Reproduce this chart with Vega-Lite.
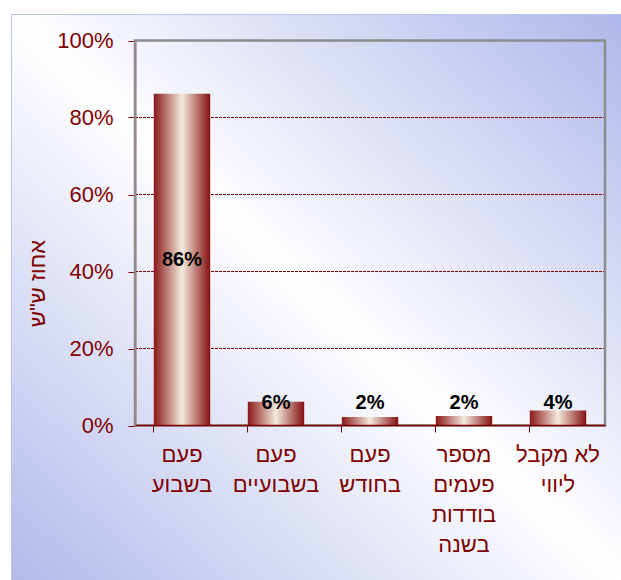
{
  "$schema": "https://vega.github.io/schema/vega-lite/v6.json",
  "width": 611,
  "height": 567,
  "autosize": {"type": "none"},
  "padding": {"left": 11, "top": 14, "right": 0, "bottom": 0},
  "background": "#ffffff",
  "config": {
    "font": "Liberation Sans",
    "view": {
      "fill": {
        "gradient": "linear",
        "x1": 1, "y1": 0, "x2": 0, "y2": 1,
        "stops": [
          {"offset": 0, "color": "#aeb7ea"},
          {"offset": 0.5, "color": "#ffffff"},
          {"offset": 1, "color": "#b1baea"}
        ]
      },
      "stroke": "#b8c3ef",
      "strokeWidth": 1
    }
  },
  "datasets": {
    "bars": [
      {"cat": "פעם|בשבוע", "value": 0.862},
      {"cat": "פעם|בשבועיים", "value": 0.062},
      {"cat": "פעם|בחודש", "value": 0.022},
      {"cat": "מספר|פעמים|בודדות|בשנה", "value": 0.0245},
      {"cat": "לא מקבל|ליווי", "value": 0.039}
    ],
    "grid": [{"g": 0}, {"g": 0.2}, {"g": 0.4}, {"g": 0.6}, {"g": 0.8}, {"g": 1}],
    "frame": [{"f": 1}]
  },
  "resolve": {"scale": {"x": "independent"}},
  "layer": [
    {
      "data": {"name": "grid"},
      "transform": [{"filter": "datum.g > 0 && datum.g < 1"}],
      "mark": {"type": "rule", "stroke": "#800000", "strokeWidth": 1, "strokeDash": [3, 1]},
      "encoding": {
        "y": {
          "field": "g", "type": "quantitative",
          "scale": {"domain": [0, 1], "range": [411.5, 26.5], "nice": false},
          "axis": {
            "title": "אחוז ש\"ש",
            "orient": "left",
            "offset": -124,
            "values": [0, 0.2, 0.4, 0.6, 0.8, 1],
            "format": ".0%",
            "grid": false,
            "labelFont": "Liberation Sans",
            "labelFontSize": 22,
            "labelColor": "#800000",
            "labelPadding": 15,
            "tickSize": 7,
            "tickColor": "#800000",
            "tickWidth": 1,
            "domainColor": "#800000",
            "domainWidth": 1.5,
            "titleFont": "Liberation Sans",
            "titleFontSize": 22,
            "titleFontWeight": "normal",
            "titleColor": "#800000",
            "titleAngle": -90,
            "titleX": -98,
            "titleY": 269,
            "titleAlign": "center",
            "titleBaseline": "middle"
          }
        },
        "x": {"datum": 0, "type": "quantitative", "scale": {"domain": [0, 1], "range": [124, 594]}, "axis": null},
        "x2": {"datum": 1}
      }
    },
    {
      "data": {"name": "frame"},
      "mark": {"type": "rect", "fill": "transparent", "stroke": "#8c8c8c", "strokeWidth": 2.5},
      "encoding": {
        "x": {"datum": 0, "type": "quantitative", "scale": {"domain": [0, 1], "range": [124, 594]}, "axis": null},
        "x2": {"datum": 1},
        "y": {"datum": 0, "type": "quantitative"},
        "y2": {"datum": 1}
      }
    },
    {
      "data": {"name": "bars"},
      "layer": [
        {
          "mark": {
            "type": "bar",
            "color": {
              "gradient": "linear",
              "x1": 0, "y1": 0, "x2": 1, "y2": 0,
              "stops": [
                {"offset": 0, "color": "#8a1818"},
                {"offset": 0.5, "color": "#f4ebdc"},
                {"offset": 1, "color": "#841010"}
              ]
            }
          },
          "encoding": {
            "x": {
              "field": "cat", "type": "nominal", "sort": null,
              "scale": {"range": [124, 594], "paddingInner": 0.4, "paddingOuter": 0.2},
              "axis": {
                "title": null,
                "orient": "bottom",
                "offset": -156,
                "zindex": 1,
                "bandPosition": 0,
                "labelAngle": 0,
                "labelExpr": "split(datum.label, '|')",
                "labelFont": "Liberation Sans",
                "labelFontSize": 22,
                "labelLineHeight": 30,
                "labelColor": "#800000",
                "labelAlign": "center",
                "labelBaseline": "top",
                "labelPadding": 12,
                "labelOverlap": false,
                "labelBound": false,
                "tickSize": 7,
                "tickColor": "#800000",
                "tickWidth": 1,
                "domainColor": "#800000",
                "domainWidth": 1.5,
                "grid": false
              }
            },
            "y": {"field": "value", "type": "quantitative"}
          }
        },
        {
          "transform": [{"filter": "datum.value < 0.5"}],
          "mark": {"type": "text", "font": "Liberation Sans", "fontSize": 20, "fontWeight": "bold", "color": "#000000", "baseline": "alphabetic", "dy": -17},
          "encoding": {
            "x": {"field": "cat", "type": "nominal", "sort": null},
            "y": {"datum": 0, "type": "quantitative"},
            "text": {"field": "value", "type": "quantitative", "format": ".0%"}
          }
        },
        {
          "transform": [{"calculate": "datum.value / 2", "as": "mid"}, {"filter": "datum.value >= 0.5"}],
          "mark": {"type": "text", "font": "Liberation Sans", "fontSize": 20, "fontWeight": "bold", "color": "#000000", "baseline": "middle"},
          "encoding": {
            "x": {"field": "cat", "type": "nominal", "sort": null},
            "y": {"field": "mid", "type": "quantitative"},
            "text": {"field": "value", "type": "quantitative", "format": ".0%"}
          }
        }
      ]
    }
  ]
}
